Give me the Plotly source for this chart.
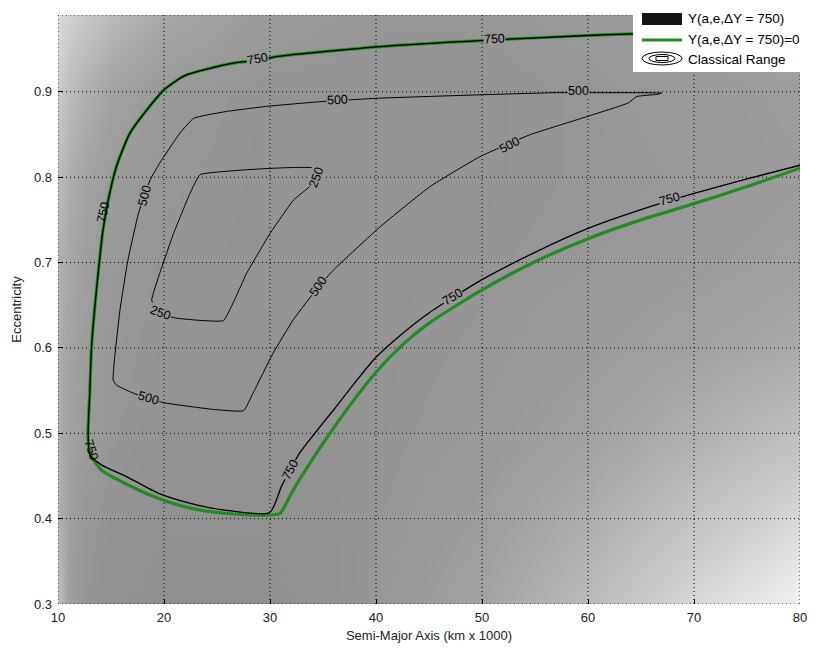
import numpy as np
import plotly.graph_objects as go

# ---------------- data ----------------
x_ticks = [10, 20, 30, 40, 50, 60, 70, 80]
y_ticks = [0.3, 0.4, 0.5, 0.6, 0.7, 0.8, 0.9]
x_range = [10, 80]
y_range = [0.3, 0.99]

# background shading (gray level 0-255) on a coarse grid
bg_a = [10, 11, 12.5, 15, 20, 30, 40, 50, 60, 70, 80]
bg_e = [0.3, 0.4, 0.5, 0.6, 0.7, 0.8, 0.9, 0.99]
bg_gray = [
    [192, 160, 150, 145, 143, 143, 150, 163, 186, 216, 240],
    [178, 160, 152, 148, 145, 145, 149, 157, 173, 194, 216],
    [173, 162, 155, 150, 147, 146, 148, 152, 161, 175, 190],
    [173, 164, 157, 151, 148, 147, 148, 150, 155, 162, 170],
    [178, 167, 159, 152, 149, 148, 148, 149, 151, 155, 160],
    [188, 174, 164, 155, 150, 148, 148, 148, 150, 152, 156],
    [202, 188, 176, 163, 152, 148, 148, 148, 150, 154, 158],
    [220, 210, 200, 186, 168, 154, 150, 150, 153, 158, 165],
]

# zero-level curve (green)
green_a = [80, 70, 64.2, 59.9, 49.8, 40.4, 30.75, 28.87, 26.67, 24.15, 21.95, 20.06,
           18.33, 16.76, 15.5, 14.72, 14.2, 13.85, 13.45, 13.15, 12.99, 12.83, 12.9,
           13.15, 14.09, 16.29, 19.43, 22.58, 25.72, 28.24, 30.12, 30.94, 31.4, 32.2,
           33.77, 35.66, 37.55, 40.0, 42.5, 45.0, 50.0, 55.0, 60.0, 65.0, 70.0, 75.0, 80]
green_e = [0.976, 0.972, 0.968, 0.966, 0.960, 0.953, 0.9415, 0.937, 0.934, 0.927, 0.919, 0.903,
           0.878, 0.851, 0.812, 0.772, 0.734, 0.695, 0.645, 0.598, 0.545, 0.500, 0.485,
           0.4726, 0.457, 0.4414, 0.4239, 0.412, 0.4063, 0.4043, 0.4043, 0.406, 0.415, 0.4336,
           0.465, 0.500, 0.533, 0.5715, 0.6035, 0.629, 0.668, 0.701, 0.728, 0.750, 0.769, 0.789, 0.8106]

# contour 750
c750_a = [80, 70, 64.2, 59.9, 49.8, 40.4, 30.75, 28.87, 26.67, 24.15, 21.95, 20.06,
          18.33, 16.76, 15.5, 14.72, 14.2, 13.85, 13.45, 13.15, 12.99, 12.85, 13.0,
          14.09, 16.5, 19.43, 22.5, 25.72, 29.97, 31.07, 31.9, 32.83, 34.1, 35.97,
          37.86, 40.0, 42.5, 45.0, 50.0, 55.0, 60.0, 65.0, 70.0, 75.0, 80]
c750_e = [0.976, 0.972, 0.968, 0.966, 0.960, 0.953, 0.9415, 0.937, 0.934, 0.927, 0.919, 0.903,
          0.878, 0.851, 0.812, 0.772, 0.734, 0.695, 0.645, 0.598, 0.545, 0.505, 0.475,
          0.463, 0.449, 0.430, 0.418, 0.410, 0.407, 0.4375, 0.457, 0.4775, 0.498, 0.527,
          0.557, 0.589, 0.617, 0.641, 0.680, 0.712, 0.740, 0.762, 0.781, 0.798, 0.814]

# contour 500
c500_a = [66.95, 60.8, 57.0, 49.8, 40.4, 35.0, 29.7, 25.9, 22.8, 21.5, 19.6, 18.7, 17.6,
          16.6, 15.85, 15.2, 15.5, 17.1, 19.9, 24.65, 27.5, 28.4, 30.3, 32.2, 34.6, 36.0,
          40.4, 45.1, 49.8, 54.5, 59.9, 63.8, 64.6, 66.5, 66.95]
c500_e = [0.8985, 0.899, 0.899, 0.8965, 0.8926, 0.8887, 0.883, 0.877, 0.869, 0.8516, 0.8165,
          0.797, 0.758, 0.703, 0.6445, 0.5625, 0.5566, 0.547, 0.536, 0.528, 0.5265, 0.547,
          0.594, 0.633, 0.672, 0.6914, 0.742, 0.789, 0.824, 0.8496, 0.871, 0.887, 0.8945,
          0.897, 0.8985]

# contour 250
c250_a = [34.1, 23.4, 22.45, 20.9, 19.6, 18.84, 19.6, 21.2, 25.6, 27.8, 30.0, 32.2, 33.9, 34.1]
c250_e = [0.8106, 0.803, 0.781, 0.734, 0.6875, 0.656, 0.64, 0.6348, 0.632, 0.6875, 0.734,
          0.773, 0.791, 0.8106]

# contour labels: text, a, e, angle, masked
lab_text = ["750", "750", "750", "750", "750", "750", "750",
            "500", "500", "500", "500", "500", "500", "250", "250"]
lab_a = [28.8, 51.2, 14.3, 13.15, 31.9, 47.2, 67.7,
         59.15, 36.4, 18.2, 18.5, 34.6, 52.6, 34.4, 19.7]
lab_e = [0.9385, 0.962, 0.759, 0.4805, 0.457, 0.660, 0.775,
         0.9004, 0.890, 0.779, 0.541, 0.672, 0.838, 0.800, 0.641]
lab_ang = [-10, -3, -78, 72, -62, -32, -16,
           0, -3, -76, 16, -56, -28, -70, 20]
lab_mask = [True, True, False, False, True, True, True,
            True, True, True, True, True, True, True, True]

legend_labels = ["Y(a,e,\u0394Y = 750)", "Y(a,e,\u0394Y = 750)=0", "Classical Range"]

# ---------------- layout geometry ----------------
W, H = 822, 652
L, R, T, B = 58, 22, 15, 48
PW, PH = W - L - R, H - T - B
FONT = "Liberation Sans"


def px(x):
    return (x - L) / PW


def py(y):
    return (H - B - y) / PH


def bg_at(a, e):
    g = np.array(bg_gray, dtype=float)
    rows = np.array([np.interp(a, bg_a, r) for r in g])
    return float(np.interp(e, bg_e, rows))


fig = go.Figure()

fig.add_trace(go.Heatmap(
    x=bg_a, y=bg_e, z=bg_gray, zmin=0, zmax=255,
    colorscale=[[0, "rgb(0,0,0)"], [1, "rgb(255,255,255)"]],
    zsmooth="best", showscale=False, hoverinfo="skip"))

# dotted grid (drawn as traces so it sits above the shading)
for xv in x_ticks:
    fig.add_trace(go.Scatter(x=[xv, xv], y=y_range, mode="lines",
                             line=dict(color="black", width=1, dash="1px,3px"),
                             showlegend=False, hoverinfo="skip"))
for yv in y_ticks + [y_range[1]]:
    fig.add_trace(go.Scatter(x=x_range, y=[yv, yv], mode="lines",
                             line=dict(color="black", width=1, dash="1px,3px"),
                             showlegend=False, hoverinfo="skip"))

fig.add_trace(go.Scatter(x=green_a, y=green_e, mode="lines",
                         line=dict(color="rgb(34,140,34)", width=3.2, shape="spline", smoothing=0.6),
                         showlegend=False, hoverinfo="skip"))
fig.add_trace(go.Scatter(x=c750_a, y=c750_e, mode="lines",
                         line=dict(color="black", width=1.3, shape="spline", smoothing=0.6),
                         showlegend=False, hoverinfo="skip"))
fig.add_trace(go.Scatter(x=c500_a, y=c500_e, mode="lines",
                         line=dict(color="black", width=1, shape="spline", smoothing=0.4),
                         showlegend=False, hoverinfo="skip"))
fig.add_trace(go.Scatter(x=c250_a, y=c250_e, mode="lines",
                         line=dict(color="black", width=1, shape="spline", smoothing=0.3),
                         showlegend=False, hoverinfo="skip"))

annotations = []
for t, a, e, ang, m in zip(lab_text, lab_a, lab_e, lab_ang, lab_mask):
    g = int(round(bg_at(a, e)))
    annotations.append(dict(x=a, y=e, xref="x", yref="y", text=t, showarrow=False,
                            textangle=ang, font=dict(size=12.5, color="black", family=FONT),
                            bgcolor=f"rgb({g},{g},{g})" if m else "rgba(0,0,0,0)", borderpad=0))

# ---------------- custom legend ----------------
shapes = []
shapes.append(dict(type="rect", xref="paper", yref="paper",
                   x0=px(633), x1=px(802), y0=py(72), y1=py(5),
                   fillcolor="white", line=dict(width=0), layer="above"))
shapes.append(dict(type="rect", xref="paper", yref="paper",
                   x0=px(642), x1=px(682), y0=py(25), y1=py(13),
                   fillcolor="rgb(20,20,20)", line=dict(width=0), layer="above"))
shapes.append(dict(type="line", xref="paper", yref="paper",
                   x0=px(642), x1=px(682), y0=py(40), y1=py(40),
                   line=dict(color="rgb(34,140,34)", width=3), layer="above"))
shapes.append(dict(type="circle", xref="paper", yref="paper",
                   x0=px(642), x1=px(682), y0=py(65), y1=py(52),
                   line=dict(color="black", width=1), layer="above"))
shapes.append(dict(type="circle", xref="paper", yref="paper",
                   x0=px(649), x1=px(675), y0=py(62.5), y1=py(54.5),
                   line=dict(color="black", width=1), layer="above"))
shapes.append(dict(type="rect", xref="paper", yref="paper",
                   x0=px(656), x1=px(668), y0=py(60.5), y1=py(56.5),
                   line=dict(color="black", width=1), layer="above"))
for lbl, yy in zip(legend_labels, [19, 40, 59]):
    annotations.append(dict(x=px(686), y=py(yy), xref="paper", yref="paper",
                            text=lbl, showarrow=False, xanchor="left", yanchor="middle",
                            font=dict(size=13.5, color="black", family=FONT)))

fig.update_layout(
    width=W, height=H,
    margin=dict(l=L, r=R, t=T, b=B),
    paper_bgcolor="white", plot_bgcolor="rgb(145,145,145)",
    font=dict(family=FONT, size=13, color="#222"),
    showlegend=False,
    shapes=shapes, annotations=annotations,
    xaxis=dict(range=x_range, tickvals=x_ticks, ticktext=[str(v) for v in x_ticks],
               showgrid=False, zeroline=False, showline=False,
               ticks="inside", ticklen=5, tickcolor="black", layer="above traces",
               ticklabelstandoff=4, tickfont=dict(size=13),
               title=dict(text="Semi-Major Axis (km x 1000)", standoff=6,
                          font=dict(size=13, color="#222"))),
    yaxis=dict(range=y_range, tickvals=y_ticks, ticktext=[f"{v:.1f}" for v in y_ticks],
               showgrid=False, zeroline=False, showline=False,
               ticks="inside", ticklen=5, tickcolor="black", layer="above traces",
               ticklabelstandoff=5, tickfont=dict(size=13),
               title=dict(text="Eccentricity", standoff=9, font=dict(size=13, color="#222"))),
)

fig.write_html("out.html")
